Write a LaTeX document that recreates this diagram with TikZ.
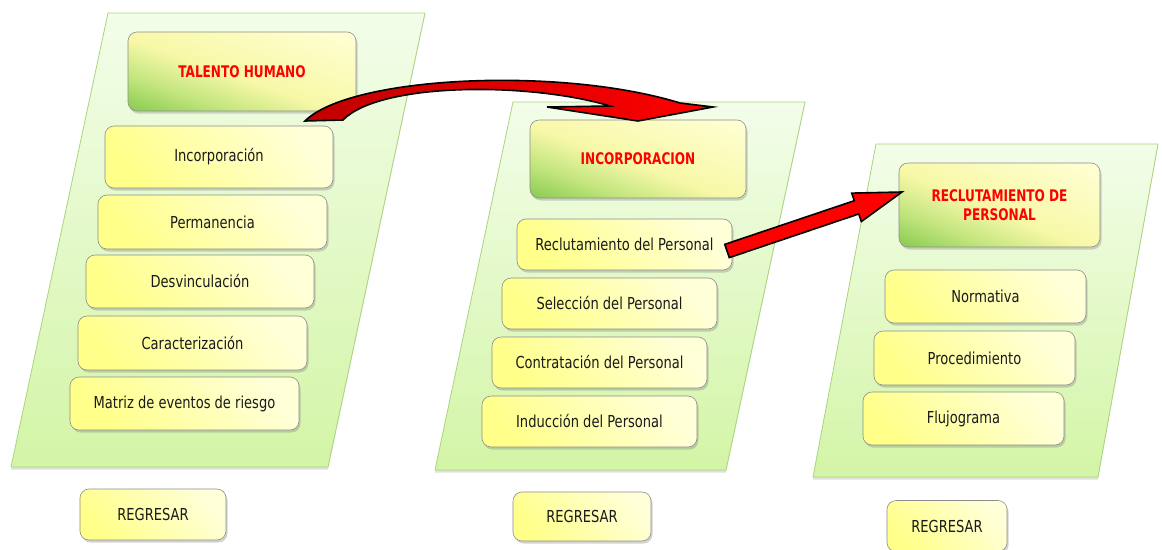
\documentclass[tikz,border=0pt]{standalone}
\usepackage{fontspec}
\setmainfont{DejaVu Sans Condensed}[FakeStretch=0.88,
  BoldFeatures={FakeStretch=0.84}]
\usetikzlibrary{calc,shadows}

\definecolor{panelTop}{HTML}{F3FDEA}
\definecolor{panelBot}{HTML}{D3F5A6}
\definecolor{panelLine}{HTML}{A9D47C}
\definecolor{boxLine}{HTML}{8C8C8C}
\definecolor{boxLight}{HTML}{FFFFD8}
\definecolor{boxDeep}{HTML}{FFFF8A}
\definecolor{hdrG}{HTML}{86CB4E}
\definecolor{hdrL}{HTML}{C2E57E}
\definecolor{hdrM}{HTML}{F8F8A8}
\definecolor{hdrY}{HTML}{FFFFD6}
\definecolor{arrDark}{HTML}{C00000}
\definecolor{arrLight}{HTML}{FF0000}
\definecolor{txt}{HTML}{1A1A1A}

% green corner fading into pale yellow, used across a rotated strip
\pgfdeclareverticalshading{hdrshade}{100bp}{color(0bp)=(hdrG); color(25bp)=(hdrG);
  color(36bp)=(hdrL); color(48bp)=(hdrM); color(75bp)=(hdrY); color(100bp)=(hdrY)}

\tikzset{
  panel/.style={draw=panelLine, line width=0.8pt, top color=panelTop, bottom color=panelBot,
    drop shadow={opacity=0.25, shadow xshift=0pt, shadow yshift=-2.5pt}},
  boxbase/.style={draw=boxLine, line width=0.6pt, rounded corners=9pt, inner sep=0pt,
    drop shadow={opacity=0.35, shadow xshift=1.5pt, shadow yshift=-2.5pt}},
  item/.style={boxbase, top color=boxLight, bottom color=boxDeep, shading angle=-50,
    text=txt, font=\fontsize{16.5}{18.5}\selectfont},
  % #1: tilt of the gradient, #2: half its length
  header/.style 2 args={boxbase, fill=hdrY, text=red, align=center,
    font=\fontsize{16}{18.5}\selectfont\bfseries,
    path picture={
      \begin{scope}[transform canvas={rotate around={#1:(path picture bounding box.center)}}]
        \shade[shading=hdrshade]
          ($(path picture bounding box.center)+(-200,-#2)$) rectangle
          ($(path picture bounding box.center)+(200,#2)$);
      \end{scope}}},
  blockarrow/.style={draw=black, line width=1.6pt, line join=miter,
    left color=arrDark, right color=arrLight}
}

\begin{document}
\begin{tikzpicture}[x=1pt,y=-1pt]
\useasboundingbox (0,0) rectangle (1162,549);

% three slanted panels
\path[panel] (108,13) -- (425,13) -- (328,467) -- (11,467) -- cycle;
\path[panel] (513,102) -- (805,102) -- (726,470) -- (435,470) -- cycle;
\path[panel] (876,144) -- (1158,144) -- (1098,477) -- (813,477) -- cycle;

% first column
\node[header={-19.1}{74.6}, minimum width=228, minimum height=79] (th) at (242,71.5) {TALENTO HUMANO};
\node[item, minimum width=228, minimum height=62] (inc) at (219,157) {Incorporación};
\node[item, minimum width=229, minimum height=54] (perm) at (212.5,222) {Permanencia};
\node[item, minimum width=228, minimum height=53] (desv) at (200,281.5) {Desvinculación};
\node[item, minimum width=229, minimum height=54] (car) at (192.5,343) {Caracterización};
\node[item, minimum width=229, minimum height=53] (mat) at (184.5,403.5) {Matriz de eventos de riesgo};
\node[item, minimum width=146, minimum height=51] (reg1) at (153,514.5) {REGRESAR};

% second column
\node[header={-19.9}{73.4}, minimum width=216, minimum height=78] (inc2) at (638,159) {INCORPORACION};
\node[item, minimum width=215, minimum height=51] (rec) at (624.5,244.5) {Reclutamiento del Personal};
\node[item, minimum width=215, minimum height=51] (sel) at (609.5,303.5) {Selección del Personal};
\node[item, minimum width=215, minimum height=51] (con) at (599.5,362.5) {Contratación del Personal};
\node[item, minimum width=215, minimum height=51] (ind) at (589.5,421.5) {Inducción del Personal};
\node[item, minimum width=138, minimum height=49] (reg2) at (582,516.5) {REGRESAR};

% third column
\node[header={-22.7}{77.5}, minimum width=201, minimum height=84] (rp) at (999.5,205) {RECLUTAMIENTO DE\\PERSONAL};
\node[item, minimum width=201, minimum height=53] (nor) at (985.5,296.5) {Normativa};
\node[item, minimum width=201, minimum height=54] (pro) at (974.5,358) {Procedimiento};
\node[item, minimum width=201, minimum height=53] (flu) at (963.5,418.5) {Flujograma};
\node[item, minimum width=120, minimum height=51] (reg3) at (947,526) {REGRESAR};

% curved block arrow from the first header to the second
\path[blockarrow] (305,121) .. controls (350,76) and (560,66) .. (680,103)
  -- (713,107) -- (638,121) -- (547,107) -- (610,106)
  .. controls (530,82) and (380,82) .. (343,120) -- cycle;

% straight block arrow from "Reclutamiento del Personal" to the third header
\coordinate (t2) at (727,251);
\coordinate (h2) at (902,192);
\coordinate (hb) at ($(h2)!48pt!(t2)$);
\path[blockarrow, left color=arrLight, right color=arrLight]
  ($(t2)!7pt!90:(h2)$) -- ($(hb)!7pt!90:(h2)$) -- ($(hb)!15pt!90:(h2)$)
  -- (h2) -- ($(hb)!15pt!-90:(h2)$) -- ($(hb)!7pt!-90:(h2)$)
  -- ($(t2)!7pt!-90:(h2)$) -- cycle;
\end{tikzpicture}
\end{document}
